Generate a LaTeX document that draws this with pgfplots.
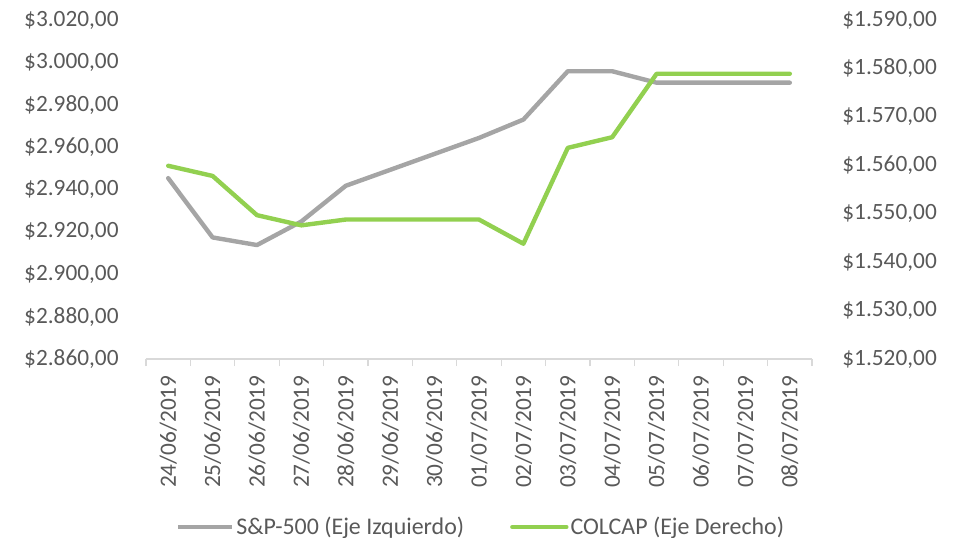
\documentclass[border=0pt]{standalone}
\usepackage{pgfplots}
\pgfplotsset{compat=1.18}
\usepackage{fontspec}
\setmainfont{Carlito}
\definecolor{spgray}{HTML}{A5A5A5}
\definecolor{colgreen}{HTML}{92D050}
\definecolor{txt}{HTML}{595959}
\definecolor{axl}{HTML}{D9D9D9}

\pgfplotstableread{
x sp col
0 2945.35 1559.9
1 2917.38 1557.8
2 2913.78 1549.7
3 2924.92 1547.6
4 2941.76 1548.8
5 2949.28 1548.8
6 2956.81 1548.8
7 2964.33 1548.8
8 2973.01 1543.8
9 2995.82 1563.6
10 2995.82 1565.8
11 2990.41 1578.9
12 2990.41 1578.9
13 2990.41 1578.9
14 2990.41 1578.9
}\datatable

\pgfplotsset{
  common/.style={
    at={(0,0)}, anchor=south west,
    scale only axis, width=333bp, height=169.5bp,
    xmin=-0.5, xmax=14.5,
    major tick length=0pt,
    scaled y ticks=false,
    /pgf/number format/fixed,
    /pgf/number format/fixed zerofill,
    /pgf/number format/precision=2,
    /pgf/number format/use comma,
    /pgf/number format/1000 sep={.},
    /pgf/number format/assume math mode=true,
    yticklabel={\$\pgfmathprintnumber{\tick}},
    yticklabel style={font=\fontsize{11.7}{13}\selectfont, text=txt, inner sep=0pt},
    y axis line style={draw=none},
  }
}

\begin{document}
\begin{tikzpicture}
\path[use as bounding box] (-73bp,-89.5bp) rectangle (409bp,179.5bp);
\begin{axis}[common,
  ymin=2860, ymax=3020,
  ytick={2860,2880,...,3020},
  yticklabel shift=13.5bp,
  axis x line*=bottom, axis y line*=left,
  xtick={0,...,14},
  xticklabels={24/06/2019,25/06/2019,26/06/2019,27/06/2019,28/06/2019,29/06/2019,30/06/2019,01/07/2019,02/07/2019,03/07/2019,04/07/2019,05/07/2019,06/07/2019,07/07/2019,08/07/2019},
  minor xtick={-0.5,0.5,...,14.5},
  minor tick length=3.5bp,
  tick align=outside,
  x axis line style={axl, line width=0.6bp, -},
  every minor tick/.style={axl, line width=0.6bp},
  xticklabel style={rotate=90, anchor=east, font=\fontsize{11.7}{13}\selectfont, text=txt, inner sep=0pt},
  xticklabel shift=8bp,
]
\addplot[spgray, line width=2.2bp, line join=round, line cap=round] table[x=x, y=sp] {\datatable};
\end{axis}
\begin{axis}[common,
  ymin=1520, ymax=1590,
  ytick={1520,1530,...,1590},
  yticklabel shift=15bp,
  axis y line*=right, axis x line=none,
  legend columns=2,
  legend style={draw=none, fill=none, at={(0.503,-0.4956)}, anchor=center,
    font=\fontsize{12}{14}\selectfont, text=txt,
    /tikz/every even column/.append style={column sep=22bp},
    nodes={inner sep=1bp}},
  legend image code/.code={\draw[#1] (0bp,0bp) -- (27bp,0bp);},
]
\addlegendimage{spgray, line width=2.2bp}
\addlegendentry{S\&P-500 (Eje Izquierdo)}
\addplot[colgreen, line width=2.2bp, line join=round, line cap=round] table[x=x, y=col] {\datatable};
\addlegendentry{COLCAP (Eje Derecho)}
\end{axis}
\end{tikzpicture}
\end{document}
